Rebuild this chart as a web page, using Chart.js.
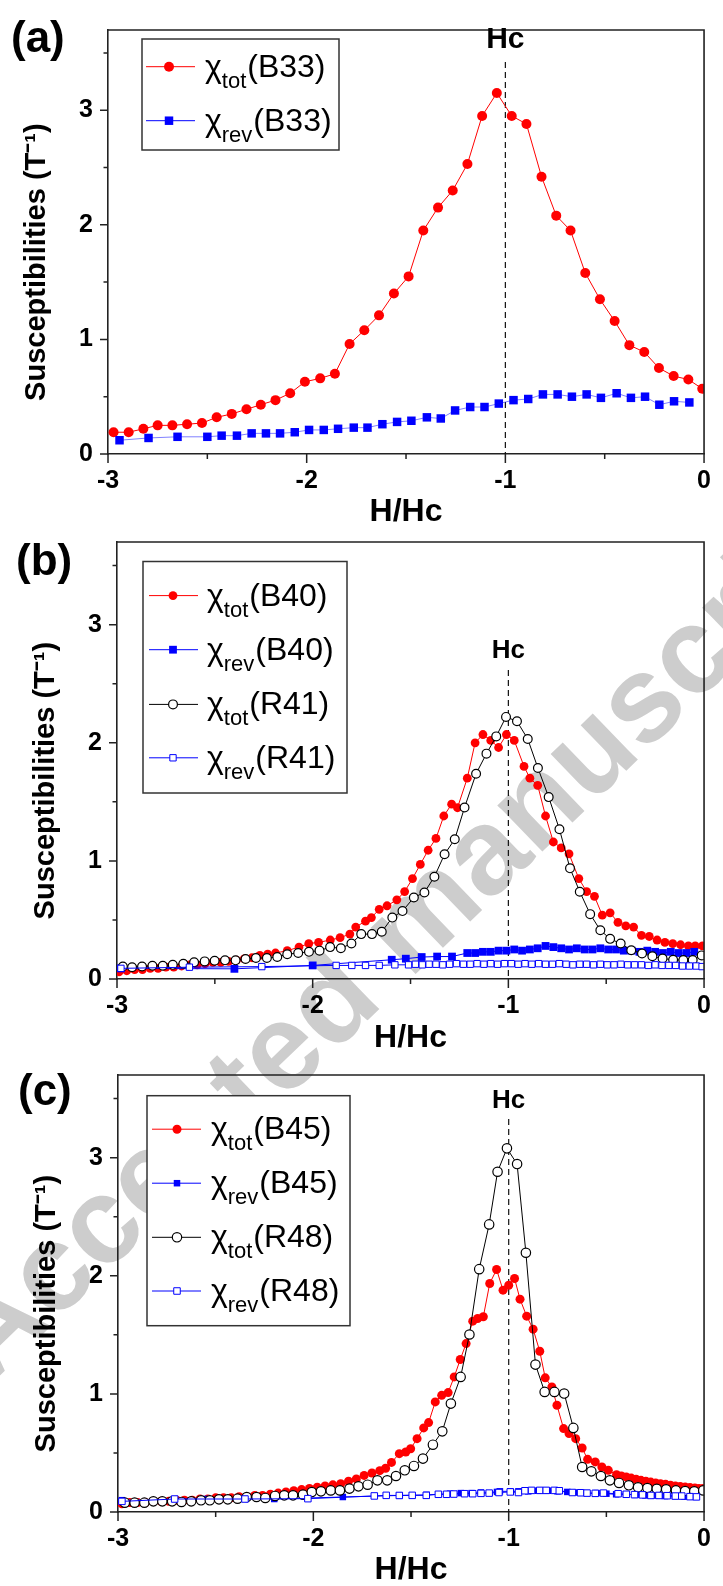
<!DOCTYPE html>
<html>
<head>
<meta charset="utf-8">
<script src="https://cdn.jsdelivr.net/npm/chart.js@4.4.1/dist/chart.umd.min.js"></script>
<style>
html, body { margin: 0; padding: 0; background: #fff; }
#page { position: relative; width: 723px; height: 1586px; overflow: hidden; }
#page canvas { position: absolute; left: 0; }
#wm { position: absolute; left: 0; top: 0; }
</style>
</head>
<body>
<div id="page">
<svg id="wm" width="723" height="1586"><text x="-10" y="1385" transform="rotate(-44 -10 1385)" font-family="Liberation Sans, Arial, sans-serif" font-weight="bold" font-size="122" fill="#cdcdcd">Accepted manuscript</text></svg>
<canvas id="pa" width="723" height="528" style="top:0px"></canvas>
<canvas id="pb" width="723" height="544" style="top:510px"></canvas>
<canvas id="pc" width="723" height="546" style="top:1040px"></canvas>
</div>
<script>
// axes
var xTicks = [-3, -2, -1, 0];
var xMinorTicks = [-2.5, -1.5, -0.5];
var yTicks = [0, 1, 2, 3];
var yMinorTicks = [0.5, 1.5, 2.5, 3.5];
var hcValue = -1;

// (a) B33
var hB33tot = [-2.972,-2.896,-2.822,-2.750,-2.676,-2.602,-2.527,-2.453,-2.377,-2.303,-2.231,-2.157,-2.083,-2.009,-1.932,-1.858,-1.784,-1.710,-1.636,-1.561,-1.487,-1.413,-1.339,-1.265,-1.191,-1.117,-1.043,-0.968,-0.894,-0.818,-0.744,-0.672,-0.598,-0.524,-0.450,-0.376,-0.301,-0.227,-0.153,-0.079,-0.009];
var chiB33tot = [0.19,0.19,0.22,0.25,0.25,0.26,0.27,0.32,0.35,0.39,0.43,0.47,0.53,0.63,0.66,0.70,0.96,1.08,1.21,1.40,1.55,1.95,2.15,2.30,2.53,2.95,3.15,2.95,2.88,2.42,2.08,1.95,1.58,1.35,1.16,0.95,0.89,0.75,0.68,0.65,0.57];
var hB33rev = [-2.942,-2.796,-2.650,-2.500,-2.428,-2.351,-2.277,-2.205,-2.134,-2.060,-1.988,-1.914,-1.842,-1.763,-1.694,-1.619,-1.545,-1.473,-1.395,-1.325,-1.253,-1.177,-1.105,-1.033,-0.959,-0.885,-0.811,-0.737,-0.665,-0.591,-0.519,-0.440,-0.368,-0.297,-0.225,-0.151,-0.074];
var chiB33rev = [0.12,0.14,0.15,0.15,0.16,0.16,0.18,0.18,0.18,0.19,0.21,0.21,0.22,0.23,0.23,0.26,0.28,0.29,0.32,0.31,0.38,0.41,0.41,0.44,0.47,0.48,0.52,0.52,0.50,0.52,0.49,0.53,0.49,0.50,0.43,0.46,0.45];
var legendA = [['tot', '(B33)'], ['rev', '(B33)']];

// (b) B40 / R41
var hB40tot = [-2.99,-2.95,-2.91,-2.87,-2.83,-2.79,-2.75,-2.71,-2.67,-2.63,-2.59,-2.55,-2.51,-2.47,-2.43,-2.39,-2.35,-2.31,-2.27,-2.23,-2.19,-2.13,-2.07,-2.02,-1.97,-1.91,-1.86,-1.81,-1.78,-1.73,-1.70,-1.66,-1.62,-1.57,-1.53,-1.49,-1.45,-1.41,-1.37,-1.33,-1.29,-1.26,-1.21,-1.17,-1.13,-1.09,-1.05,-1.01,-0.97,-0.92,-0.89,-0.85,-0.81,-0.77,-0.73,-0.69,-0.64,-0.60,-0.56,-0.52,-0.48,-0.44,-0.40,-0.36,-0.32,-0.28,-0.24,-0.20,-0.16,-0.12,-0.08,-0.045,-0.008];
var chiB40tot = [0.06,0.07,0.08,0.08,0.09,0.09,0.10,0.10,0.11,0.12,0.12,0.13,0.14,0.14,0.15,0.16,0.17,0.18,0.20,0.21,0.22,0.24,0.27,0.30,0.31,0.33,0.35,0.38,0.44,0.49,0.52,0.59,0.62,0.67,0.74,0.85,0.97,1.09,1.19,1.38,1.48,1.45,1.70,2.00,2.07,2.02,1.96,2.07,2.02,1.80,1.70,1.64,1.38,1.16,1.11,1.06,0.85,0.74,0.70,0.54,0.56,0.48,0.45,0.44,0.37,0.36,0.33,0.31,0.30,0.29,0.28,0.28,0.28];
var hB40rev = [-2.98,-2.40,-2.00,-1.596,-1.524,-1.443,-1.364,-1.288,-1.21,-1.17,-1.13,-1.09,-1.05,-1.01,-0.97,-0.93,-0.89,-0.85,-0.81,-0.77,-0.73,-0.69,-0.65,-0.61,-0.57,-0.53,-0.49,-0.45,-0.41,-0.37,-0.33,-0.29,-0.25,-0.21,-0.17,-0.13,-0.09,-0.05];
var chiB40rev = [0.09,0.086,0.115,0.163,0.172,0.186,0.19,0.19,0.22,0.22,0.23,0.23,0.24,0.24,0.25,0.24,0.25,0.26,0.28,0.27,0.26,0.25,0.26,0.25,0.25,0.26,0.25,0.25,0.24,0.24,0.23,0.24,0.23,0.22,0.23,0.22,0.22,0.23];
var hR41tot = [-2.970,-2.923,-2.872,-2.819,-2.766,-2.715,-2.661,-2.606,-2.552,-2.501,-2.448,-2.394,-2.343,-2.290,-2.234,-2.181,-2.130,-2.074,-2.019,-1.965,-1.911,-1.856,-1.802,-1.752,-1.697,-1.647,-1.593,-1.541,-1.483,-1.429,-1.378,-1.326,-1.274,-1.224,-1.165,-1.112,-1.062,-1.012,-0.956,-0.901,-0.849,-0.794,-0.739,-0.685,-0.635,-0.582,-0.530,-0.480,-0.426,-0.372,-0.317,-0.264,-0.212,-0.158,-0.106,-0.058,-0.012];
var chiR41tot = [0.106,0.100,0.106,0.112,0.112,0.120,0.129,0.141,0.149,0.155,0.158,0.158,0.169,0.178,0.178,0.186,0.21,0.22,0.23,0.24,0.27,0.26,0.30,0.38,0.38,0.40,0.52,0.575,0.69,0.733,0.866,1.056,1.183,1.452,1.738,1.908,2.054,2.219,2.182,2.032,1.786,1.540,1.268,0.937,0.739,0.549,0.413,0.34,0.300,0.244,0.216,0.193,0.173,0.163,0.160,0.160,0.200];
var hR41rev = [-2.98,-2.63,-2.26,-1.88,-1.80,-1.73,-1.66,-1.58,-1.51,-1.475,-1.44,-1.405,-1.37,-1.335,-1.30,-1.265,-1.23,-1.195,-1.16,-1.125,-1.09,-1.055,-1.02,-0.985,-0.95,-0.915,-0.88,-0.845,-0.81,-0.775,-0.74,-0.705,-0.67,-0.635,-0.60,-0.565,-0.53,-0.495,-0.46,-0.425,-0.39,-0.355,-0.32,-0.285,-0.25,-0.215,-0.18,-0.145,-0.11,-0.075,-0.04,-0.01];
var chiR41rev = [0.09,0.10,0.105,0.115,0.115,0.115,0.115,0.12,0.12,0.125,0.12,0.125,0.125,0.12,0.125,0.13,0.125,0.125,0.13,0.125,0.13,0.125,0.13,0.13,0.125,0.13,0.125,0.13,0.125,0.125,0.13,0.125,0.12,0.125,0.125,0.12,0.125,0.12,0.12,0.125,0.12,0.12,0.12,0.115,0.12,0.115,0.115,0.115,0.11,0.11,0.11,0.105];
var legendB = [['tot', '(B40)'], ['rev', '(B40)'], ['tot', '(R41)'], ['rev', '(R41)']];

// (c) B45 / R48
var hB45tot = [-2.98,-2.94,-2.90,-2.86,-2.82,-2.78,-2.74,-2.70,-2.66,-2.62,-2.58,-2.54,-2.50,-2.46,-2.42,-2.38,-2.34,-2.30,-2.26,-2.22,-2.18,-2.14,-2.10,-2.06,-2.02,-1.98,-1.94,-1.90,-1.86,-1.82,-1.78,-1.74,-1.70,-1.66,-1.63,-1.60,-1.56,-1.527,-1.502,-1.469,-1.435,-1.410,-1.376,-1.343,-1.310,-1.279,-1.248,-1.218,-1.184,-1.159,-1.130,-1.097,-1.062,-1.029,-1.000,-0.970,-0.942,-0.908,-0.875,-0.841,-0.813,-0.779,-0.753,-0.719,-0.691,-0.657,-0.624,-0.596,-0.557,-0.523,-0.490,-0.448,-0.423,-0.398,-0.373,-0.348,-0.323,-0.298,-0.273,-0.248,-0.223,-0.197,-0.172,-0.147,-0.122,-0.097,-0.072,-0.047,-0.026,-0.005];
var chiB45tot = [0.07,0.08,0.08,0.08,0.09,0.09,0.09,0.10,0.10,0.10,0.11,0.11,0.12,0.12,0.12,0.13,0.13,0.14,0.14,0.15,0.16,0.17,0.18,0.19,0.20,0.21,0.22,0.23,0.24,0.26,0.28,0.31,0.33,0.35,0.37,0.42,0.494,0.508,0.536,0.621,0.712,0.757,0.932,0.988,1.011,1.144,1.291,1.426,1.616,1.638,1.653,1.935,2.053,1.878,1.920,1.977,1.802,1.658,1.548,1.361,1.136,1.059,0.904,0.706,0.664,0.621,0.542,0.446,0.424,0.381,0.353,0.316,0.305,0.297,0.287,0.277,0.268,0.260,0.253,0.246,0.240,0.234,0.227,0.220,0.216,0.212,0.207,0.203,0.200,0.198];
var hB45rev = [-2.98,-2.55,-2.20,-1.849,-1.56,-1.42,-1.30,-1.245,-1.19,-1.142,-1.06,-1.045,-0.992,-0.95,-0.90,-0.85,-0.80,-0.75,-0.70,-0.65,-0.60,-0.55,-0.50,-0.45,-0.40,-0.35,-0.30,-0.25,-0.20,-0.15,-0.10,-0.05];
var chiB45rev = [0.10,0.11,0.11,0.127,0.14,0.145,0.155,0.16,0.16,0.165,0.17,0.175,0.175,0.175,0.175,0.18,0.18,0.175,0.17,0.165,0.16,0.16,0.155,0.15,0.15,0.145,0.14,0.14,0.135,0.135,0.13,0.13];
var hR48tot = [-2.965,-2.915,-2.865,-2.819,-2.773,-2.723,-2.675,-2.625,-2.575,-2.530,-2.483,-2.438,-2.388,-2.341,-2.291,-2.246,-2.196,-2.149,-2.104,-2.053,-2.008,-1.961,-1.911,-1.864,-1.815,-1.769,-1.722,-1.672,-1.622,-1.577,-1.532,-1.485,-1.439,-1.388,-1.340,-1.296,-1.246,-1.201,-1.151,-1.100,-1.057,-1.009,-0.957,-0.912,-0.863,-0.816,-0.766,-0.716,-0.669,-0.624,-0.577,-0.528,-0.482,-0.435,-0.385,-0.338,-0.290,-0.242,-0.194,-0.144,-0.097,-0.050,-0.004];
var chiR48tot = [0.079,0.079,0.079,0.090,0.090,0.090,0.085,0.090,0.099,0.099,0.107,0.107,0.113,0.127,0.127,0.119,0.136,0.141,0.141,0.147,0.169,0.175,0.183,0.183,0.198,0.217,0.231,0.268,0.268,0.305,0.353,0.390,0.452,0.570,0.683,0.918,1.144,1.503,2.056,2.435,2.881,3.079,2.946,2.195,1.248,1.017,1.017,1.003,0.712,0.381,0.344,0.305,0.268,0.246,0.226,0.209,0.203,0.197,0.192,0.183,0.178,0.175,0.183];
var hR48rev = [-2.98,-2.71,-2.35,-2.028,-1.688,-1.627,-1.56,-1.494,-1.422,-1.360,-1.318,-1.281,-1.226,-1.184,-1.142,-1.100,-1.050,-0.992,-0.950,-0.917,-0.883,-0.841,-0.808,-0.766,-0.741,-0.674,-0.632,-0.599,-0.557,-0.515,-0.440,-0.398,-0.356,-0.315,-0.272,-0.231,-0.189,-0.147,-0.114,-0.072,-0.039];
var chiR48rev = [0.09,0.11,0.11,0.113,0.136,0.141,0.14,0.141,0.141,0.15,0.15,0.152,0.155,0.155,0.158,0.16,0.165,0.17,0.165,0.18,0.183,0.183,0.183,0.183,0.18,0.165,0.163,0.16,0.158,0.16,0.155,0.15,0.147,0.145,0.14,0.14,0.138,0.135,0.135,0.13,0.128];
var legendC = [['tot', '(B45)'], ['rev', '(B45)'], ['tot', '(R48)'], ['rev', '(R48)']];

var FONT = '"Liberation Sans", Arial, sans-serif';
var AXIS = '#222';
Chart.defaults.font.family = FONT;
Chart.defaults.color = '#000';

function pts(xs, ys) {
    var out = [];
    for (var i = 0; i < xs.length; i++) out.push({ x: xs[i], y: ys[i] });
    return out;
}

// the four kinds of series in the figure
function totFilled(xs, ys, r) {
    return { data: pts(xs, ys), showLine: true, borderColor: '#ff0000', borderWidth: 1,
        pointStyle: 'circle', pointRadius: r, pointBackgroundColor: '#ff0000',
        pointBorderColor: '#ff0000', pointBorderWidth: 0, order: 4 };
}
function revFilled(xs, ys, r, lw) {
    return { data: pts(xs, ys), showLine: true, borderColor: '#0000ff', borderWidth: lw,
        pointStyle: 'rect', pointRadius: r, pointBackgroundColor: '#0000ff',
        pointBorderColor: '#0000ff', pointBorderWidth: 0, order: 3 };
}
function totOpen(xs, ys, r) {
    return { data: pts(xs, ys), showLine: true, borderColor: '#000', borderWidth: 1,
        pointStyle: 'circle', pointRadius: r, pointBackgroundColor: '#fff',
        pointBorderColor: '#000', pointBorderWidth: 1.2, order: 2 };
}
function revOpen(xs, ys, r) {
    return { data: pts(xs, ys), showLine: true, borderColor: '#0000ff', borderWidth: 1,
        pointStyle: 'rect', pointRadius: r, pointBackgroundColor: '#fff',
        pointBorderColor: '#0000ff', pointBorderWidth: 1, order: 1 };
}

// frame, minor ticks, Hc marker, panel tag and legend
var decor = {
    id: 'decor',
    beforeDatasetsDraw: function (chart, args, o) {
        var ctx = chart.ctx, a = chart.chartArea;
        var px = chart.scales.x.getPixelForValue(hcValue);
        ctx.save();
        ctx.strokeStyle = '#111';
        ctx.lineWidth = 1.2;
        ctx.setLineDash([6, 4]);
        ctx.beginPath();
        ctx.moveTo(px, o.dashTop);
        ctx.lineTo(px, a.bottom);
        ctx.stroke();
        ctx.restore();
    },
    afterDraw: function (chart, args, o) {
        var ctx = chart.ctx, a = chart.chartArea, xs = chart.scales.x, ys = chart.scales.y;
        ctx.save();
        ctx.strokeStyle = AXIS;
        ctx.lineWidth = 1.6;
        ctx.beginPath();
        ctx.moveTo(a.left, a.top);
        ctx.lineTo(a.right, a.top);
        ctx.lineTo(a.right, a.bottom);
        ctx.stroke();

        ctx.lineWidth = 1.5;
        ctx.beginPath();
        xTicks.concat(xMinorTicks).forEach(function (v) {
            var p = xs.getPixelForValue(v);
            var len = xTicks.indexOf(v) >= 0 ? 9 : 5;
            ctx.moveTo(p, a.bottom);
            ctx.lineTo(p, a.bottom + len);
        });
        yTicks.concat(yMinorTicks).forEach(function (v) {
            var p = ys.getPixelForValue(v);
            var len = yTicks.indexOf(v) >= 0 ? 8 : 4.5;
            ctx.moveTo(a.left, p);
            ctx.lineTo(a.left - len, p);
        });
        ctx.stroke();

        // Hc label
        ctx.fillStyle = '#000';
        ctx.font = 'bold ' + o.hcSize + 'px ' + FONT;
        ctx.textAlign = 'center';
        ctx.textBaseline = 'alphabetic';
        ctx.fillText('Hc', xs.getPixelForValue(hcValue), o.hcY);

        // panel tag
        ctx.font = 'bold 44px ' + FONT;
        ctx.textAlign = 'left';
        ctx.fillText(o.tag, o.tagX, o.tagY);

        // legend
        var lg = o.legend, b = lg.box;
        ctx.fillStyle = '#fff';
        ctx.fillRect(b[0], b[1], b[2], b[3]);
        ctx.strokeStyle = '#333';
        ctx.lineWidth = 1.5;
        ctx.strokeRect(b[0], b[1], b[2], b[3]);
        chart.data.datasets.forEach(function (ds, i) {
            var y = lg.rows[i];
            ctx.strokeStyle = ds.borderColor;
            ctx.lineWidth = 1;
            ctx.beginPath();
            ctx.moveTo(lg.line[0], y);
            ctx.lineTo(lg.line[1], y);
            ctx.stroke();
            ctx.fillStyle = ds.pointBackgroundColor;
            ctx.strokeStyle = ds.pointBorderColor;
            ctx.lineWidth = ds.pointBorderWidth;
            Chart.helpers.drawPoint(ctx, { pointStyle: ds.pointStyle, radius: ds.pointRadius,
                borderWidth: ds.pointBorderWidth, rotation: 0 }, lg.mx, y);

            var parts = lg.text[i];
            var base = y + 10;
            var tx = lg.tx;
            ctx.fillStyle = '#000';
            ctx.font = '32px ' + FONT;
            ctx.fillText('\u03C7', tx, base);
            tx += ctx.measureText('\u03C7').width;
            ctx.font = '22px ' + FONT;
            ctx.fillText(parts[0], tx, base + 11);
            tx += ctx.measureText(parts[0]).width + 1;
            ctx.font = '32px ' + FONT;
            ctx.fillText(parts[1], tx, base);
        });
        ctx.restore();
    }
};

function makePanel(id, p, datasets) {
    return new Chart(document.getElementById(id), {
        type: 'scatter',
        data: { datasets: datasets },
        plugins: [decor],
        options: {
            responsive: false,
            animation: false,
            devicePixelRatio: 1,
            events: [],
            layout: { padding: { top: p.padTop, right: p.padRight, bottom: 0, left: 0 } },
            elements: { line: { tension: 0 } },
            plugins: {
                legend: { display: false },
                tooltip: { enabled: false },
                decor: p.decor
            },
            scales: {
                x: {
                    type: 'linear', min: -3, max: 0,
                    afterFit: function (s) { s.height = p.xh; },
                    afterBuildTicks: function (s) { s.ticks = xTicks.map(function (v) { return { value: v }; }); },
                    ticks: { font: { size: 25, weight: 'bold' }, padding: 12, maxRotation: 0, color: '#000',
                        callback: function (v) { return String(v); } },
                    grid: { display: false, drawTicks: false },
                    border: { display: true, color: AXIS, width: 1.6 },
                    title: { display: true, text: 'H/Hc', color: '#000',
                        font: { size: 32, weight: 'bold', lineHeight: 1 }, padding: { top: 0, bottom: 0 } }
                },
                y: {
                    type: 'linear', min: 0, max: 3.7,
                    afterFit: function (s) { s.width = p.yw; },
                    afterBuildTicks: function (s) { s.ticks = yTicks.map(function (v) { return { value: v }; }); },
                    ticks: { font: { size: 25, weight: 'bold' }, padding: 15, color: '#000',
                        callback: function (v) { return String(v); } },
                    grid: { display: false, drawTicks: false },
                    border: { display: true, color: AXIS, width: 1.6 },
                    title: { display: true, text: 'Susceptibilities (T\u207B\u00B9)     ', color: '#000',
                        font: { size: 29, weight: 'bold', lineHeight: 1 }, padding: { top: p.titlePad, bottom: 0 } }
                }
            }
        }
    });
}

makePanel('pa', {
    padTop: 16, padRight: 18, yw: 108, xh: 74, titlePad: 22.5,
    decor: { dashTop: 62, hcY: 48, hcSize: 30, tag: '(a)', tagX: 11, tagY: 52,
        legend: { box: [142, 39, 197, 111], rows: [66.7, 120.7], line: [146, 195], mx: 169, tx: 205, text: legendA } }
}, [
    totFilled(hB33tot, chiB33tot, 5),
    revFilled(hB33rev, chiB33rev, 6, 0.5)
]);

makePanel('pb', {
    padTop: 32, padRight: 8, yw: 117, xh: 75, titlePad: 31.5,
    decor: { dashTop: 160, hcY: 148, hcSize: 26, tag: '(b)', tagX: 16, tagY: 65,
        legend: { box: [143, 51.5, 204, 231.5], rows: [85.6, 139.7, 194.4, 247.8], line: [149, 198], mx: 173, tx: 207, text: legendB } }
}, [
    totFilled(hB40tot, chiB40tot, 4.4),
    revFilled(hB40rev, chiB40rev, 5.5, 1),
    totOpen(hR41tot, chiR41tot, 4.4),
    revOpen(hR41rev, chiR41rev, 4.5)
]);

makePanel('pc', {
    padTop: 35, padRight: 7, yw: 118, xh: 74, titlePad: 32.5,
    decor: { dashTop: 79, hcY: 68, hcSize: 26, tag: '(c)', tagX: 18, tagY: 64.5,
        legend: { box: [147, 55.7, 203, 230], rows: [89.2, 143.2, 197.3, 251], line: [152, 201], mx: 177, tx: 211, text: legendC } }
}, [
    totFilled(hB45tot, chiB45tot, 4.5),
    revFilled(hB45rev, chiB45rev, 4.6, 1),
    totOpen(hR48tot, chiR48tot, 4.7),
    revOpen(hR48rev, chiR48rev, 4.6)
]);
</script>
</body>
</html>
